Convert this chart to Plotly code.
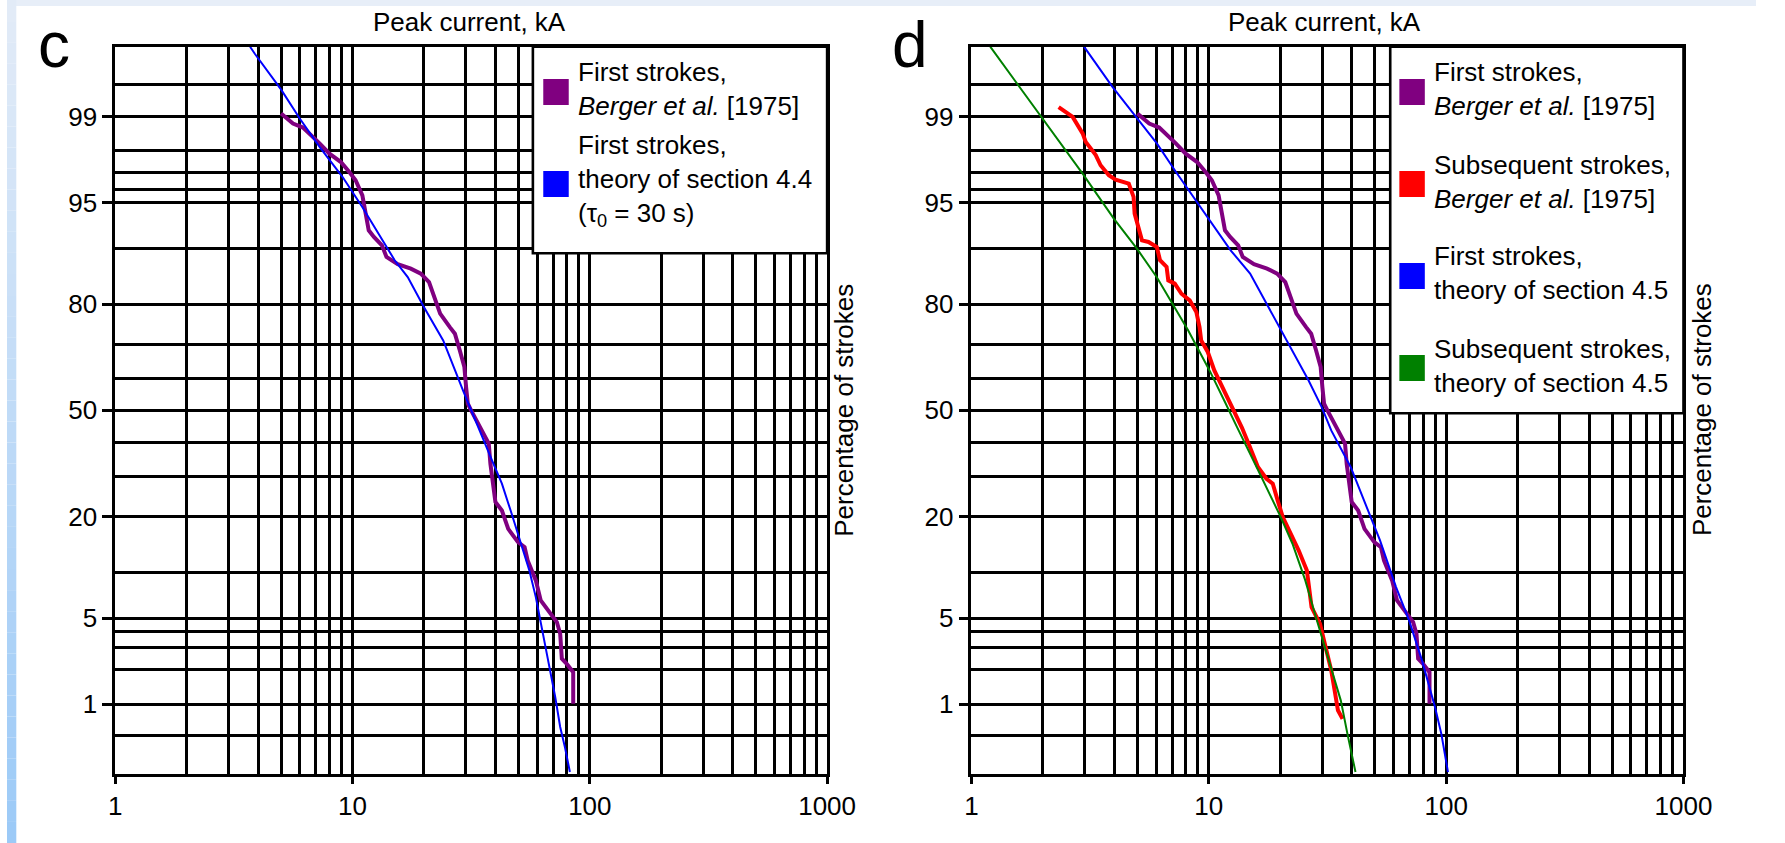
import plotly.graph_objects as go
from statistics import NormalDist

W, H = 1785, 843
FONT = "Liberation Sans, Arial, sans-serif"
nd = NormalDist()


def z(p):
    return nd.inv_cdf(p / 100.0)


# ---------------- data (peak current kA, cumulative percentage) ----------------
berger_first_kA = [5.0, 5.26, 5.61, 6.18, 6.69, 7.26, 7.99, 8.93, 9.69, 10.3, 11.0, 11.3,
                   11.7, 12.3, 13.3, 13.9, 15.5, 17.6, 19.4, 21.0, 22.3, 23.4, 25.7, 27.0,
                   28.3, 29.6, 30.1, 30.6, 31.6, 35.2, 37.5, 38.1, 39.3, 40.0, 42.6, 45.3,
                   49.8, 53.1, 54.7, 59.2, 62.1, 68.2, 72.6, 75.0, 76.2, 79.9, 85.1, 85.1]
berger_first_pct = [99.06, 98.96, 98.84, 98.74, 98.53, 98.27, 97.89, 97.53, 97.04, 96.57, 95.56, 94.34,
                    92.29, 91.5, 90.42, 88.76, 87.62, 86.9, 86.04, 84.51, 80.81, 77.8, 74.5, 72.8,
                    68.27, 63.4, 57.3, 52.1, 50.0, 43.2, 39.6, 33.6, 27.2, 23.4, 21.4, 17.4,
                    14.85, 13.96, 11.75, 8.92, 6.63, 5.37, 4.69, 3.85, 2.47, 2.24, 1.91, 1.01]

theory44_first_kA = [3.70, 3.88, 5.01, 5.98, 7.26, 9.08, 10.99, 12.87, 15.05, 17.08, 19.98, 24.1,
                     29.2, 38.7, 42.6, 46.8, 51.4, 55.6, 59.2, 63.1, 67.2, 71.5, 75.0, 78.6, 82.4]
theory44_first_pct = [99.8, 99.76, 99.44, 98.96, 98.15, 96.76, 94.63, 91.91, 88.26, 85.43, 79.33, 71.0,
                      56.3, 34.6, 28.1, 20.7, 14.6, 10.26, 6.97, 4.08, 2.24, 1.16, 0.61, 0.38, 0.21]

berger_subseq_kA = [2.33, 2.50, 2.67, 2.94, 3.03, 3.34, 3.50, 3.79, 4.05, 4.60, 4.82, 4.87,
                    5.03, 5.23, 5.57, 6.04, 6.23, 6.64, 6.75, 7.19, 7.67, 8.31, 8.86, 9.14,
                    9.29, 9.9, 10.55, 11.42, 12.16, 13.15, 13.8, 14.9, 16.1, 17.5, 18.6, 19.5,
                    20.5, 22.1, 23.9, 25.9, 27.1, 29.4, 30.8, 32.8, 33.9, 35.0, 36.6]
berger_subseq_pct = [99.18, 99.09, 98.99, 98.58, 98.32, 97.83, 97.38, 96.86, 96.61, 96.37, 95.44, 94.03,
                     92.66, 91.08, 90.87, 90.2, 88.26, 87.2, 84.82, 84.2, 82.2, 80.8, 78.2, 74.5,
                     71.0, 67.8, 62.4, 57.3, 53.2, 47.9, 44.5, 38.6, 32.7, 29.4, 28.1, 23.8,
                     19.9, 16.5, 13.4, 10.26, 5.97, 4.56, 3.24, 1.98, 1.33, 0.88, 0.73]

theory45_first_kA = [2.98, 3.92, 5.06, 6.04, 7.19, 9.0, 10.55, 12.36, 14.93, 17.5, 20.1, 23.2,
                     26.3, 29.9, 32.8, 39.6, 46.4, 52.6, 61.5, 69.8, 79.1, 89.8, 95.5, 101.8]
theory45_first_pct = [99.8, 99.48, 98.92, 98.27, 97.13, 94.9, 92.66, 89.74, 86.04, 80.1, 73.7, 66.3,
                      59.4, 51.0, 43.7, 32.7, 22.2, 15.2, 8.09, 4.82, 2.39, 0.94, 0.52, 0.21]

theory45_subseq_kA = [1.20, 1.55, 1.97, 2.43, 2.94, 3.98, 4.98, 6.03, 7.08, 8.18, 9.0, 10.07,
                      11.6, 11.97, 13.15, 15.9, 18.0, 20.1, 22.5, 25.5, 28.0, 30.8, 33.4, 36.0,
                      38.4, 41.5]
theory45_subseq_pct = [99.8, 99.52, 98.99, 98.15, 96.95, 93.55, 89.97, 85.43, 79.7, 73.7, 68.7, 62.4,
                       53.2, 51.0, 44.7, 32.7, 25.5, 19.9, 14.6, 8.92, 5.37, 3.05, 1.85, 1.08,
                       0.52, 0.21]

y_major_pct = [1, 5, 20, 50, 80, 95, 99]
y_minor_pct = [0.5, 2, 3, 4, 10, 30, 40, 60, 70, 90, 96, 97, 98, 99.5]
x_major = [1, 10, 100, 1000]
x_major_text = ["1", "10", "100", "1000"]
x_minor = [m * d for d in (1, 10, 100) for m in range(2, 10)]
pct_range = [0.2, 99.8]

x_title = "Peak current, kA"
y_title = "Percentage of strokes"

legend_c = ["First strokes,<br><i>Berger et al.</i> [1975]",
            "First strokes,<br>theory of section 4.4<br>(\u03c4<sub>0</sub> = 30 s)"]
legend_d = ["First strokes,<br><i>Berger et al.</i> [1975]",
            "Subsequent strokes,<br><i>Berger et al.</i> [1975]",
            "First strokes,<br>theory of section 4.5",
            "Subsequent strokes,<br>theory of section 4.5"]

PURPLE, RED, BLUE, GREEN = "#800080", "#ff0000", "#0000ff", "#008000"
GW = 2.6  # grid / frame line width


def fx(px):
    return px / W


def fy(py):
    return 1 - py / H


fig = go.Figure()


def add_line(xs, ps, color, width, xa, ya):
    fig.add_trace(go.Scatter(x=xs, y=[z(p) for p in ps], mode="lines",
                             line=dict(color=color, width=width),
                             xaxis=xa, yaxis=ya, showlegend=False, hoverinfo="skip"))


# panel c
add_line(berger_first_kA, berger_first_pct, PURPLE, 4, "x", "y")
add_line(theory44_first_kA, theory44_first_pct, BLUE, 2, "x", "y")
# panel d
add_line(berger_first_kA, berger_first_pct, PURPLE, 4, "x2", "y2")
add_line(berger_subseq_kA, berger_subseq_pct, RED, 4, "x2", "y2")
add_line(theory45_first_kA, theory45_first_pct, BLUE, 2, "x2", "y2")
add_line(theory45_subseq_kA, theory45_subseq_pct, GREEN, 2, "x2", "y2")

tickfont = dict(family=FONT, size=26, color="black")
ydom = [fy(774), fy(46.7)]


def xaxis(dom, anchor):
    return dict(type="log", range=[0, 3], domain=dom, anchor=anchor,
                tickmode="array", tickvals=x_major, ticktext=x_major_text,
                ticks="outside", ticklen=7, tickwidth=GW, tickcolor="black",
                showgrid=True, gridcolor="black", gridwidth=GW,
                showline=True, linecolor="black", linewidth=GW, mirror=True,
                zeroline=False, tickfont=tickfont, fixedrange=True,
                minor=dict(tickmode="array", tickvals=x_minor, showgrid=True,
                           gridcolor="black", gridwidth=GW, ticks=""))


def yaxis(anchor):
    return dict(range=[z(pct_range[0]), z(pct_range[1])], domain=ydom, anchor=anchor,
                tickmode="array", tickvals=[z(p) for p in y_major_pct],
                ticktext=[str(p) for p in y_major_pct],
                ticks="outside", ticklen=10, tickwidth=GW, tickcolor="black",
                showgrid=True, gridcolor="black", gridwidth=GW,
                showline=True, linecolor="black", linewidth=GW, mirror=True,
                zeroline=False, tickfont=tickfont, fixedrange=True,
                minor=dict(tickmode="array", tickvals=[z(p) for p in y_minor_pct],
                           showgrid=True, gridcolor="black", gridwidth=GW, ticks=""))


shapes = []
# background strips (slide frame)
shapes.append(dict(type="rect", xref="paper", yref="paper", x0=0, x1=1, y0=fy(6), y1=1,
                   fillcolor="#e7eef8", line=dict(width=0), layer="below"))
n_bands = 40
c0 = (0xe2, 0xeb, 0xf7)
c1 = (0x9c, 0xca, 0xf7)
for i in range(n_bands):
    t = i / (n_bands - 1)
    col = "rgb(%d,%d,%d)" % tuple(int(round(a + (b - a) * t)) for a, b in zip(c0, c1))
    shapes.append(dict(type="rect", xref="paper", yref="paper", x0=0, x1=fx(9.5),
                       y0=fy(H * (i + 1) / n_bands), y1=fy(H * i / n_bands),
                       fillcolor=col, line=dict(width=0), layer="below"))


def rect(x0, x1, y0, y1, fill, lw=0):
    return dict(type="rect", xref="paper", yref="paper", x0=fx(x0), x1=fx(x1),
                y0=fy(y1), y1=fy(y0), fillcolor=fill,
                line=dict(color="black", width=lw) if lw else dict(width=0), layer="above")


# legend boxes
shapes.append(rect(536.7, 837, 46.7, 253.3, "white", GW))
shapes.append(rect(1411.7, 1711, 46.7, 413.3, "white", GW))
sq = 26
for cy, col in zip([92, 184], [PURPLE, BLUE]):
    shapes.append(rect(547.3, 547.3 + sq, cy - sq / 2, cy + sq / 2, col))
for cy, col in zip([92, 184, 276, 368], [PURPLE, RED, BLUE, GREEN]):
    shapes.append(rect(1421, 1421 + sq, cy - sq / 2, cy + sq / 2, col))

annotations = []


def ann(text, x, y, size=26, xanchor="center", yanchor="middle", angle=0):
    annotations.append(dict(text=text, x=fx(x), y=fy(y), xref="paper", yref="paper",
                            xanchor=xanchor, yanchor=yanchor, showarrow=False,
                            textangle=angle, align="left", borderpad=0,
                            font=dict(family=FONT, size=size, color="black")))


for tx, cy in zip(legend_c, [89, 181]):
    ann(tx, 581.5, cy, xanchor="left")
for tx, cy in zip(legend_d, [89, 181.5, 273, 365.5]):
    ann(tx, 1455.5, cy, xanchor="left")

ann(x_title, 472, 21.7)
ann(x_title, 1345, 21.7)
ann(y_title, 854, 410, angle=-90)
ann(y_title, 1730, 410, angle=-90)
ann("c", 48, 44.5, size=64)
ann("d", 922, 44.5, size=64)

fig.update_layout(
    width=W, height=H, autosize=False,
    margin=dict(l=0, r=0, t=0, b=0),
    paper_bgcolor="white", plot_bgcolor="white",
    xaxis=xaxis([fx(110.5), fx(837)], "y"),
    yaxis=yaxis("x"),
    xaxis2=xaxis([fx(984.3), fx(1711)], "y2"),
    yaxis2=yaxis("x2"),
    shapes=shapes, annotations=annotations,
    showlegend=False,
    font=dict(family=FONT, color="black"),
)

fig.write_html("out.html")
